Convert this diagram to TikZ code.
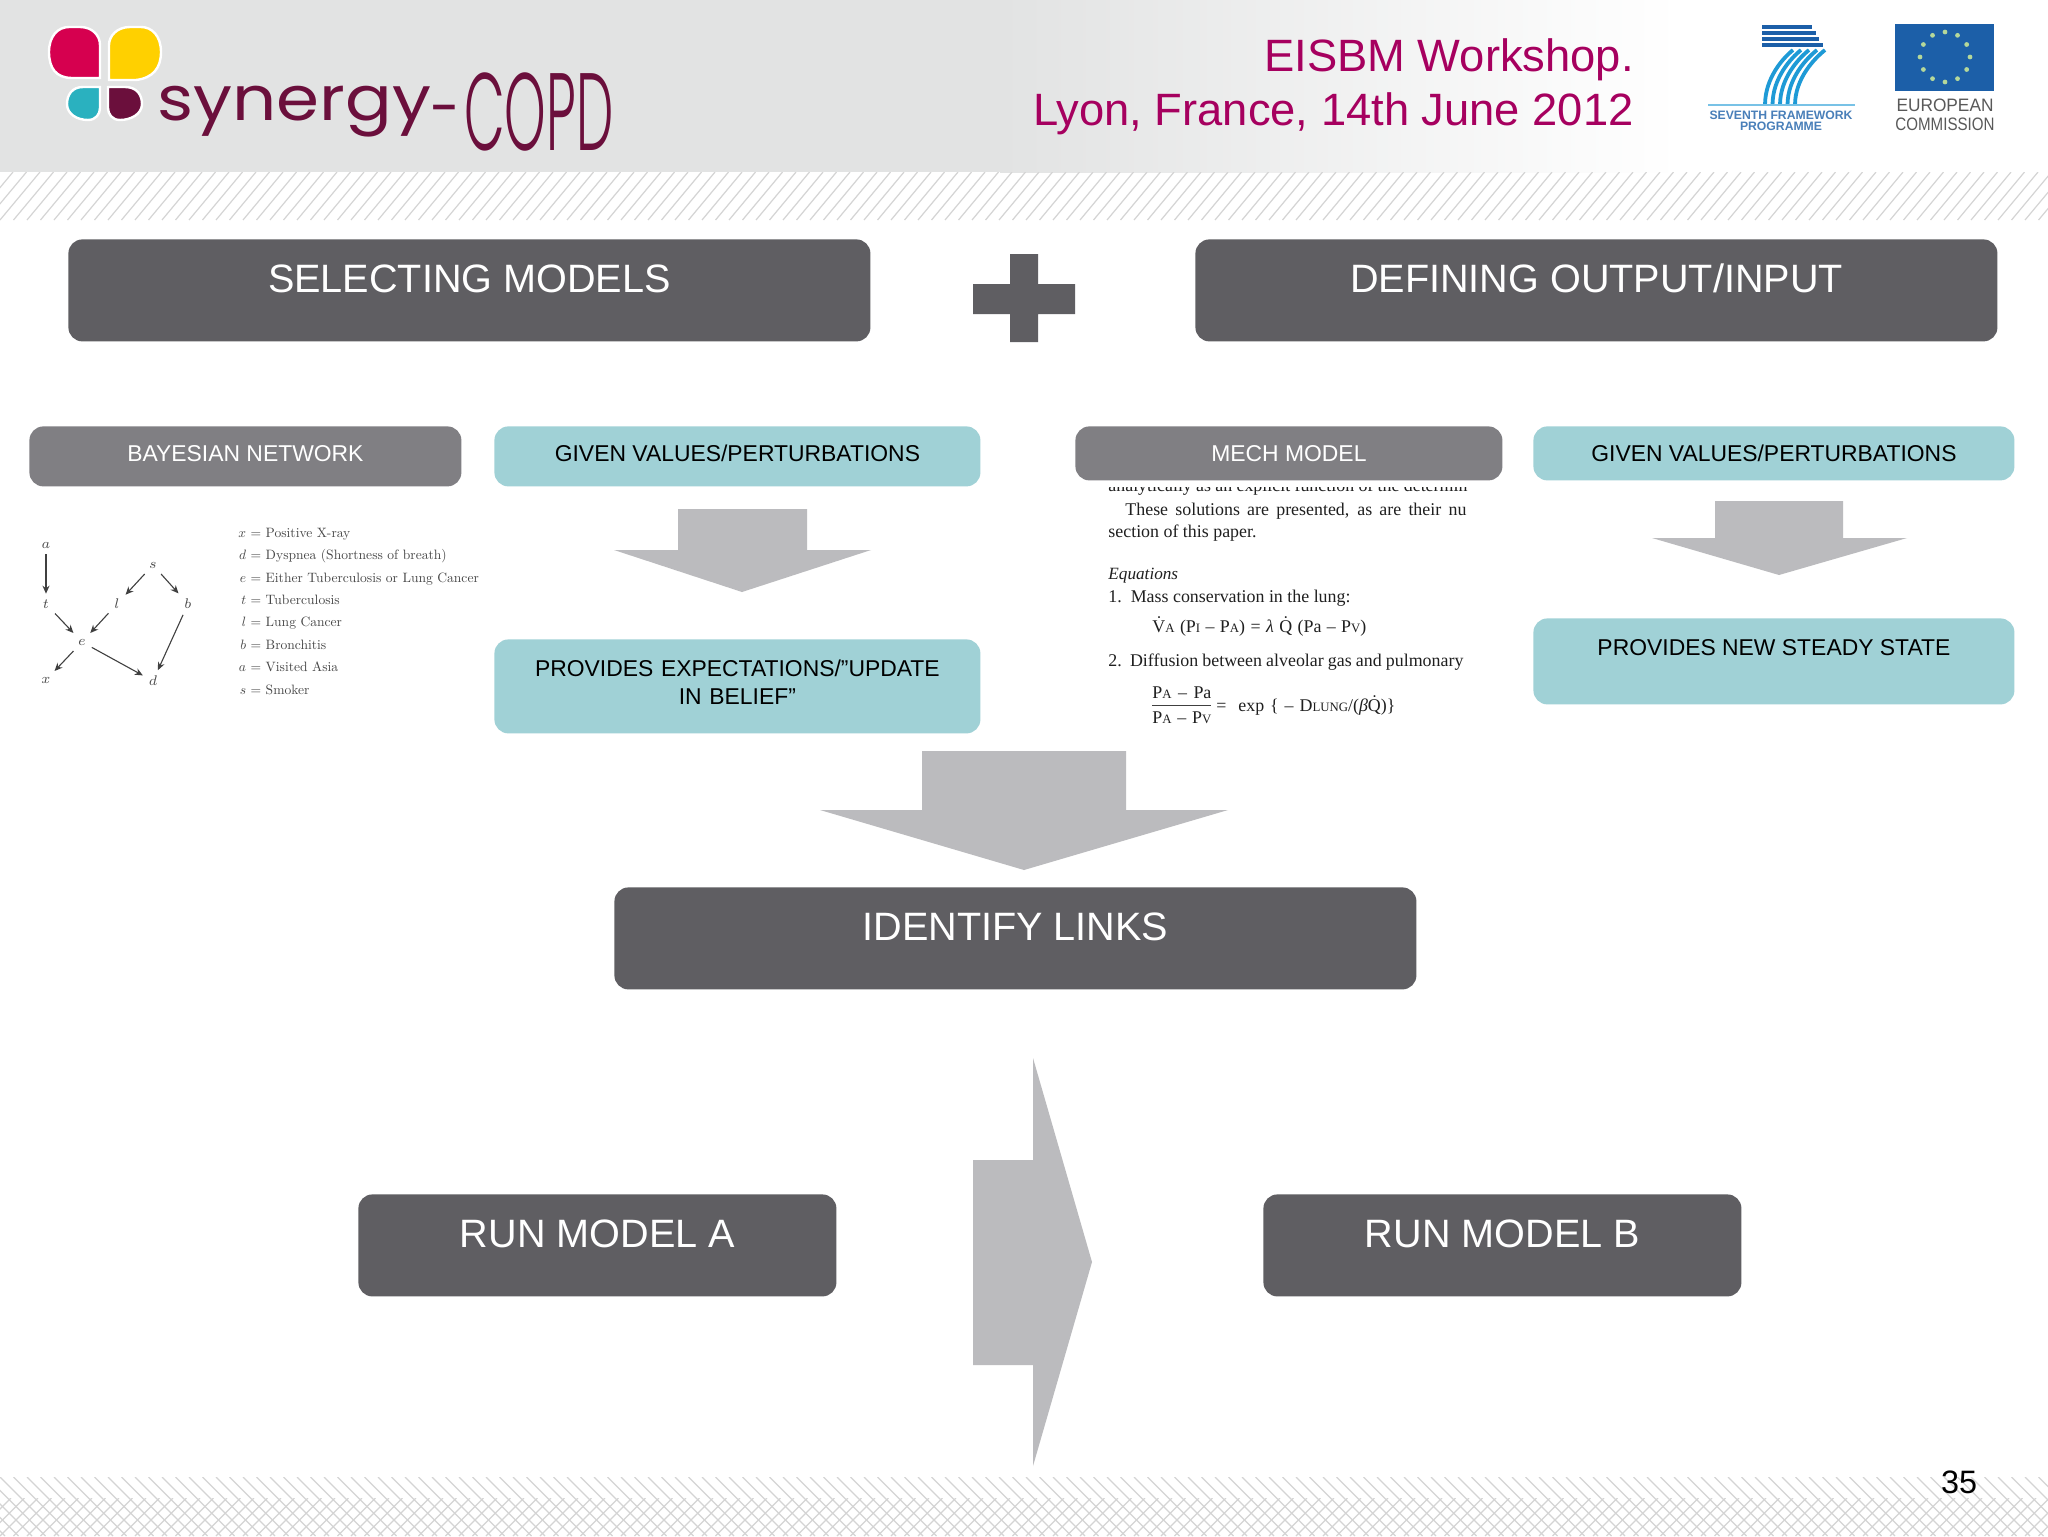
\documentclass[tikz,border=0pt]{standalone}
\usepackage{fontspec}
\usepackage{graphicx}
\usetikzlibrary{arrows.meta}
\newfontfamily\arial{Liberation Sans}
\newfontfamily\tms{Liberation Serif}
\newfontfamily\logofont{Poppins}
\newfontfamily\logolight{Poppins Light}
\definecolor{darkbox}{HTML}{5F5E62}
\definecolor{midbox}{HTML}{807F83}
\definecolor{tealbox}{HTML}{A0D1D6}
\definecolor{blockgray}{HTML}{BBBBBE}
\definecolor{titlecol}{HTML}{A6005F}
\definecolor{maroon}{HTML}{6B0F3C}
\definecolor{hdr}{HTML}{E2E3E3}
\definecolor{hatch}{HTML}{D4D4D4}
\definecolor{eublue}{HTML}{1C5FA8}
\definecolor{fpblue}{HTML}{1E9AD6}
\definecolor{eustar}{HTML}{B5D89A}
\newcommand\sm[1]{{\fontsize{6.4}{7}\selectfont #1}}
\tikzset{
  x=0.5pt,y=-0.5pt,
  panel/.style={rounded corners=7pt,inner sep=0pt,anchor=north west,align=center,font=\arial},
  bigpanel/.style={panel,fill=darkbox,text=white,font=\arial\fontsize{19.8}{24}\selectfont,text height=26.7pt,text depth=24.3pt},
  graypanel/.style={panel,fill=midbox,text=white,font=\arial\fontsize{11.45}{14}\selectfont},
  tealpanel/.style={panel,fill=tealbox,text=black,font=\arial\fontsize{11.45}{14}\selectfont},
  block/.style={fill=blockgray,draw=none},
  hatchline/.style={draw=hatch,line width=0.6pt},
  bn/.style={inner sep=2.8pt,text=black!70,font=\fontsize{7}{8}\selectfont},
  bnarrow/.style={-{Stealth[length=4pt,width=3.5pt]},draw=black!75,line width=0.55pt},
  paper/.style={anchor=base west,inner sep=0pt,text=black!88,font=\tms\fontsize{8.95}{10}\selectfont},
}
\begin{document}
\begin{tikzpicture}
\useasboundingbox (0,0) rectangle (2048,1536);
\fill[white] (0,0) rectangle (2048,1536);
% header band
\fill[hdr] (0,0) rectangle (1000,172);
\shade[left color=hdr,right color=white] (1000,0) rectangle (1680,172);
% top hatch
\begin{scope}
\clip (0,172) rectangle (2048,220);
\foreach \i in {-6,...,154} \draw[hatchline] ({\i*13.5},220) -- ({\i*13.5+40},172);
\end{scope}
% bottom hatch
\begin{scope}
\clip (0,1477) rectangle (2048,1536);
\foreach \i in {-6,...,154} \draw[hatchline] ({\i*13.5},1477) -- ({\i*13.5+59},1536);
\end{scope}
\begin{scope}
\clip (0,1498) rectangle (2048,1536);
\foreach \i in {-2,...,158} \draw[hatchline] ({\i*13.5},1536) -- ({\i*13.5+38},1498);
\end{scope}
% synergy logo
\begin{scope}[every path/.style={draw=white,line width=1.2pt}]
\fill[draw=white,fill={rgb,255:red,214;green,0;blue,79}] (100,78) -- (72,78) .. controls (56,78) and (49,68) .. (49,52) .. controls (49,36) and (58,27) .. (69,27) -- (80,27) .. controls (93,27) and (100,36) .. (100,45) -- cycle;
\fill[draw=white,fill={rgb,255:red,255;green,208;blue,0}] (109,80) -- (136,80) .. controls (153,78) and (161,68) .. (161,52) .. controls (161,36) and (152,27) .. (141,27) -- (130,27) .. controls (117,27) and (109,36) .. (109,45) -- cycle;
\fill[draw=white,fill={rgb,255:red,42;green,177;blue,191}] (100,87) -- (83,87) .. controls (72,87) and (67,95) .. (67,104) .. controls (67,114) and (77,120) .. (88,120) .. controls (96,120) and (100,114) .. (100,108) -- cycle;
\fill[draw=white,fill=maroon] (108,87) -- (125,87) .. controls (137,87) and (142,95) .. (142,104) .. controls (142,114) and (131,120) .. (120,120) .. controls (112,120) and (108,114) .. (108,108) -- cycle;
\end{scope}
\node[anchor=base west,inner sep=0pt,text=maroon,font=\logofont\fontsize{28}{32}\selectfont,xscale=1.235,yscale=1.1] (synlogo) at (157,120) {synergy};
\node[inner sep=0pt,text=maroon,font=\logofont\fontsize{30}{32}\selectfont,xscale=0.9] (dashlogo) at (445,117) {-};
\node[anchor=base west,inner sep=0pt,text=maroon,font=\logolight\fontsize{55}{60}\selectfont,xscale=0.48] (copdlogo) at (464,150) {COPD};
% title
\node[anchor=base east,inner sep=0pt,text=titlecol,font=\arial\fontsize{22.66}{28}\selectfont] (title1) at (1634,72) {EISBM Workshop.};
\node[anchor=base east,inner sep=0pt,text=titlecol,font=\arial\fontsize{22.66}{28}\selectfont] (title2) at (1634,126) {Lyon, France, 14th June 2012};
% FP7 logo
\foreach \yy in {27,33,39,45} \draw[draw=eublue,line width=1.9pt] (1762,\yy) -- ({1812+(\yy-27)*0.6},\yy);
\foreach \i in {0,...,4} \draw[draw=fpblue,line width=1.9pt] ({1765+\i*7.5},105) .. controls ({1765+\i*7.5},78) and ({1783+\i*8},58) .. ({1793+\i*8},50);
\draw[draw=fpblue!60,line width=0.9pt] (1708,105) -- (1855,105);
\node[inner sep=0pt,text=eublue!80,font=\arial\bfseries\fontsize{6.1}{7}\selectfont] (fp1) at (1781,115) {SEVENTH FRAMEWORK};
\node[inner sep=0pt,text=eublue!80,font=\arial\bfseries\fontsize{6.1}{7}\selectfont] (fp2) at (1781,126) {PROGRAMME};
% EU logo
\fill[eublue] (1895,24) rectangle (1994,91);
\foreach \a in {0,30,...,330} \fill[eustar] ({1945+25*cos(\a)},{57+25*sin(\a)}) circle[radius=1.2pt];
\node[inner sep=0pt,text=black!65,font=\arial\fontsize{9}{10}\selectfont,xscale=0.96] (eu1) at (1945,105) {EUROPEAN};
\node[inner sep=0pt,text=black!65,font=\arial\fontsize{9}{10}\selectfont,xscale=0.84] (eu2) at (1945,124) {COMMISSION};
% top panels
\node[bigpanel,minimum width=401pt] (sel) at (68,239) {SELECTING MODELS};
\node[bigpanel,minimum width=401pt] (def) at (1195,239) {DEFINING OUTPUT/INPUT};
\fill[darkbox] (1010,254) rectangle (1038,342) (973,284) rectangle (1075,314);
% second row
\node[graypanel,minimum width=216pt,text height=17.6pt,text depth=12.4pt] (bay) at (29,426) {BAYESIAN NETWORK};
\node[tealpanel,minimum width=243pt,text height=17.6pt,text depth=12.4pt] (giv1) at (494,426) {GIVEN VALUES/PERTURBATIONS};
\node[tealpanel,text width=243pt,text height=18.3pt,text depth=28.7pt] (prov1) at (494,639) {PROVIDES EXPECTATIONS/”UPDATE\\IN BELIEF”};
\node[tealpanel,minimum width=240.5pt,text height=17.5pt,text depth=9.5pt] (giv2) at (1533,426) {GIVEN VALUES/PERTURBATIONS};
\node[tealpanel,minimum width=240.5pt,text height=18.3pt,text depth=24.7pt] (prov2) at (1533,618) {PROVIDES NEW STEADY STATE};
% block arrows
\fill[block] (678,509) -- (807,509) -- (807,550) -- (871,550) -- (742,592) -- (614,550) -- (678,550) -- cycle;
\fill[block] (1715,501) -- (1843,501) -- (1843,538) -- (1907,538) -- (1779,575) -- (1652,538) -- (1715,538) -- cycle;
\fill[block] (922,751) -- (1126,751) -- (1126,810) -- (1228,810) -- (1024,870) -- (820,810) -- (922,810) -- cycle;
\fill[block] (973,1160) -- (1033,1160) -- (1033,1058) -- (1092,1262) -- (1033,1466) -- (1033,1365) -- (973,1365) -- cycle;
% Bayesian graph
\node[bn] (a) at (46,545) {$a$};
\node[bn] (s) at (153,565) {$s$};
\node[bn] (t) at (46,604) {$t$};
\node[bn] (l) at (117,604) {$l$};
\node[bn] (b) at (188,604) {$b$};
\node[bn] (e) at (82,642) {$e$};
\node[bn] (xn) at (46,680) {$x$};
\node[bn] (dn) at (153,681) {$d$};
\draw[bnarrow] (a) -- (t);
\draw[bnarrow] (s) -- (l);
\draw[bnarrow] (s) -- (b);
\draw[bnarrow] (t) -- (e);
\draw[bnarrow] (l) -- (e);
\draw[bnarrow] (b) -- (dn);
\draw[bnarrow] (e) -- (xn);
\draw[bnarrow] (e) -- (dn);
\node[anchor=north west,inner sep=0pt,text=black!72] (legend) at (238,521) {\scalebox{0.678}{\renewcommand\arraystretch{1.38}\begin{tabular}{@{}r@{ $=$ }l@{}}
$x$ & Positive X-ray\\
$d$ & Dyspnea (Shortness of breath)\\
$e$ & Either Tuberculosis or Lung Cancer\\
$t$ & Tuberculosis\\
$l$ & Lung Cancer\\
$b$ & Bronchitis\\
$a$ & Visited Asia\\
$s$ & Smoker
\end{tabular}}};
% paper excerpt
\begin{scope}
\clip (1090,487) rectangle (1480,496);
\node[paper] (p0) at (1108,491) {\makebox[179.5pt][s]{analytically as an explicit function of the determin}};
\end{scope}
\node[paper] (p1) at (1125,515) {\makebox[170.5pt][s]{These solutions are presented, as are their nu}};
\node[paper] (p2) at (1108,537) {section of this paper.};
\node[paper,font=\tms\itshape\fontsize{8.6}{10}\selectfont] (p3) at (1108,579) {Equations};
\node[paper] (p4) at (1108,602) {1.\ \ Mass conservation in the lung:};
\node[paper] (p5) at (1152,632) {\makebox[107pt][s]{\.V\sm{A} (P\sm{I} – P\sm{A}) = {\itshape λ} \.Q (Pa – P\sm{V})}};
\node[paper] (p6) at (1108,666) {\makebox[177.5pt][s]{2.\ \ Diffusion between alveolar gas and pulmonary}};
\node[paper] (p7) at (1152,698) {\makebox[29.5pt][s]{P\sm{A} – Pa}};
\node[paper] (p8) at (1152,723) {\makebox[29.5pt][s]{P\sm{A} – P\sm{V}}};
\coordinate (fracl) at (1152,705);
\coordinate (fracr) at (1211,705);
\draw[black!75,line width=0.4pt] (fracl) -- (fracr);
\node[paper] (p9) at (1216,711) {\makebox[89.5pt][s]{=\ \ exp \{ – D\sm{LUNG}/({\itshape β}\.Q)\}}};
\node[graypanel,minimum width=213.5pt,text height=17.4pt,text depth=9.6pt] (mech) at (1075,426) {MECH MODEL};
% lower panels
\node[bigpanel,minimum width=401pt] (links) at (614,887) {IDENTIFY LINKS};
\node[bigpanel,minimum width=239pt] (runa) at (358,1194) {RUN MODEL A};
\node[bigpanel,minimum width=239pt] (runb) at (1263,1194) {RUN MODEL B};
\node[anchor=base,inner sep=0pt,text=black,font=\arial\fontsize{16.2}{18}\selectfont] (num) at (1959,1493) {35};
\end{tikzpicture}
\end{document}
